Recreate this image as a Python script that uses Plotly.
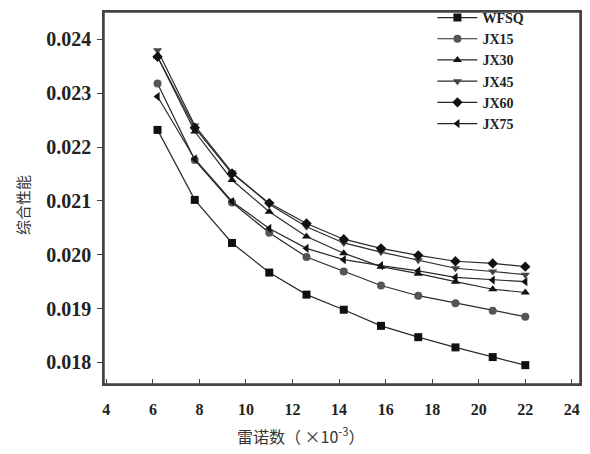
import plotly.graph_objects as go

reynolds = [6.2, 7.8, 9.4, 11.0, 12.6, 14.2, 15.8, 17.4, 19.0, 20.6, 22.0]

wfsq = [0.02232, 0.02102, 0.02022, 0.01967, 0.01926, 0.01898, 0.01868, 0.01847, 0.01828, 0.01810, 0.01795]
jx15 = [0.02318, 0.02176, 0.02097, 0.02041, 0.01996, 0.01969, 0.01943, 0.01924, 0.01910, 0.01896, 0.01885]
jx30 = [0.02368, 0.02229, 0.02139, 0.02080, 0.02034, 0.02003, 0.01978, 0.01965, 0.01950, 0.01936, 0.01930]
jx45 = [0.02380, 0.02240, 0.02153, 0.02094, 0.02052, 0.02022, 0.02005, 0.01990, 0.01975, 0.01969, 0.01963]
jx60 = [0.02368, 0.02236, 0.02151, 0.02096, 0.02058, 0.02029, 0.02012, 0.01999, 0.01988, 0.01984, 0.01978]
jx75 = [0.02294, 0.02178, 0.02099, 0.02049, 0.02012, 0.01991, 0.01980, 0.01970, 0.01958, 0.01953, 0.01950]

series_names = ["WFSQ", "JX15", "JX30", "JX45", "JX60", "JX75"]
series_vals = [wfsq, jx15, jx30, jx45, jx60, jx75]
symbols = ["square", "circle", "triangle-up", "triangle-down", "diamond", "triangle-left"]
marker_colors = ["#111111", "#555555", "#111111", "#444444", "#111111", "#111111"]

x_ticks = [4, 6, 8, 10, 12, 14, 16, 18, 20, 22, 24]
y_ticks = [0.018, 0.019, 0.020, 0.021, 0.022, 0.023, 0.024]

# page body has an 8px margin; figure sized/margined so the plot area lands at
# page x 104..580, y 12..384
W, H = 582, 438
L, R, T, B = 96, 10, 4, 62
plot_w = W - L - R
plot_h = H - T - B

fig = go.Figure()
for name, vals, sym, mc in zip(series_names, series_vals, symbols, marker_colors):
    fig.add_trace(go.Scatter(
        x=reynolds, y=vals, name="<b>" + name + "</b>", mode="lines+markers",
        line=dict(color="#2a2a2a", width=1.2),
        marker=dict(symbol=sym, size=8, color=mc, line=dict(width=0)),
    ))

x_tick_font = dict(family="Liberation Serif", size=16, color="#222222")
y_tick_font = dict(family="Liberation Serif", size=20, color="#222222")
frame_col = "#444444"

fig.update_layout(
    width=W, height=H,
    margin=dict(l=L, r=R, t=T, b=B, autoexpand=False),
    paper_bgcolor="white", plot_bgcolor="white",
    showlegend=True,
    legend=dict(
        x=0.69, y=1.027, xanchor="left", yanchor="top",
        bgcolor="rgba(0,0,0,0)", borderwidth=0,
        font=dict(family="Liberation Serif", size=14, color="#222222"),
        itemwidth=40, tracegroupgap=0,
    ),
    xaxis=dict(
        range=[3.9, 24.35], tickvals=x_ticks,
        ticktext=["<b>%d</b>" % t for t in x_ticks],
        ticks="inside", ticklen=5, tickwidth=1.2, tickcolor=frame_col,
        showline=True, linecolor=frame_col, linewidth=1.5, mirror=True,
        showgrid=False, zeroline=False, tickfont=x_tick_font,
        ticklabeloverflow="allow", automargin=False, ticklabelstandoff=10,
    ),
    yaxis=dict(
        range=[0.0176, 0.02451], tickvals=y_ticks,
        ticktext=["<b>%.3f</b>" % t for t in y_ticks],
        ticks="outside", ticklen=5, tickwidth=1.2, tickcolor=frame_col,
        showline=True, linecolor=frame_col, linewidth=1.5, mirror=True,
        showgrid=False, zeroline=False, tickfont=y_tick_font, automargin=False,
        ticklabelstandoff=2,
    ),
)

# plot frame drawn on the axis domain
fig.add_shape(type="rect", xref="x domain", yref="y domain", x0=0, x1=1, y0=0, y1=1,
              line=dict(color=frame_col, width=1.5), fillcolor="rgba(0,0,0,0)", layer="above")

# y-axis title, centred near page (22, 205)
fig.add_annotation(
    text="综合性能", xref="paper", yref="paper",
    x=(22 - 8 - L) / plot_w, y=1 - (205 - 8 - T) / plot_h,
    xanchor="center", yanchor="middle", textangle=-90,
    showarrow=False, font=dict(family="Noto Sans CJK SC", size=15, color="#333333"),
)

# x-axis title, centred near page (300, 435)
fig.add_annotation(
    text="雷诺数（ ×10<sup>-3</sup>）", xref="paper", yref="paper",
    x=(300 - 8 - L) / plot_w, y=1 - (427 - T) / plot_h,
    xanchor="center", yanchor="middle",
    showarrow=False, font=dict(family="Noto Sans CJK SC", size=16, color="#333333"),
)

fig.write_html("out.html")
